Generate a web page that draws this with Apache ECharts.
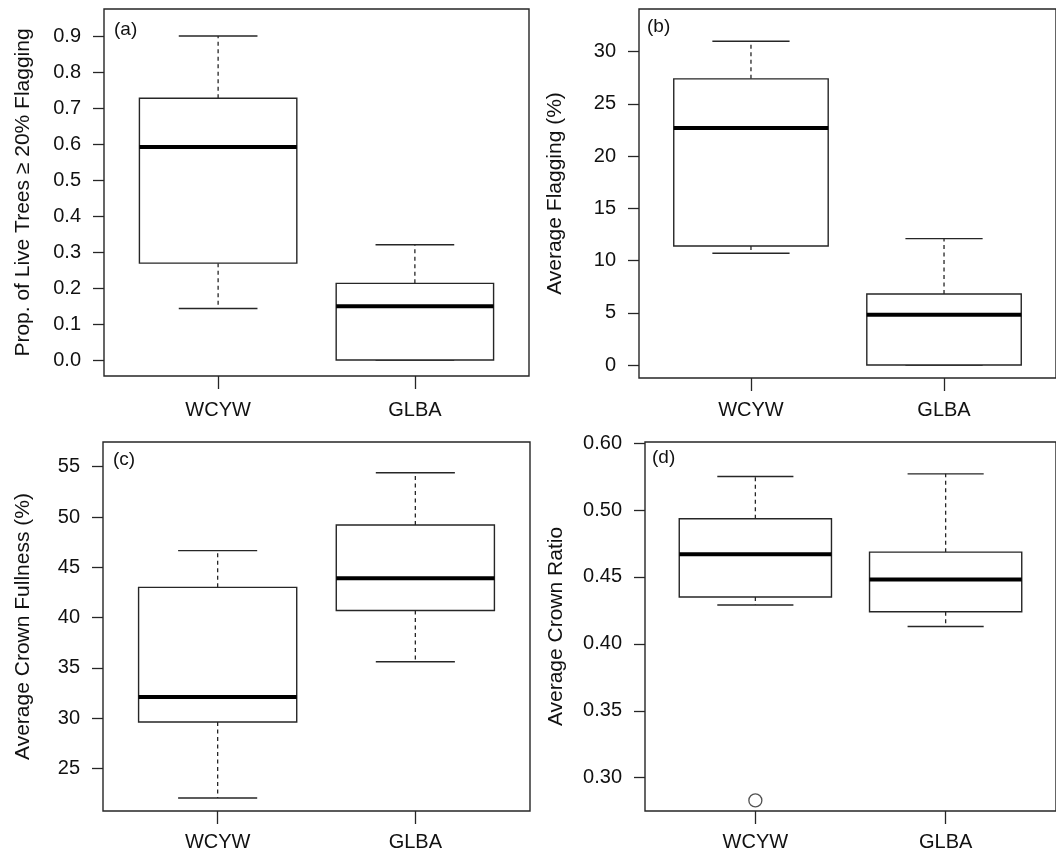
<!DOCTYPE html>
<html>
<head>
<meta charset="utf-8">
<script src="https://cdn.jsdelivr.net/npm/echarts@6/dist/echarts.min.js"></script>
<style>
  html, body { margin: 0; background: #fff; }
  #chart { width: 1056px; height: 855px; }
</style>
</head>
<body>
<div id="chart"></div>
<script>
// 两个站点
const categories = ['WCYW', 'GLBA'];

// 每组 [min, Q1, median, Q3, max]
const propFlagging = [[0.143, 0.269, 0.592, 0.727, 0.900], [0.0, 0.0, 0.149, 0.213, 0.320]];
const avgFlagging = [[10.7, 11.4, 22.7, 27.4, 31.0], [0.0, 0.0, 4.8, 6.8, 12.1]];
const crownFullness = [[22.05, 29.6, 32.1, 43.0, 46.65], [35.6, 40.7, 43.9, 49.2, 54.4]];
const crownRatio = [[0.429, 0.435, 0.467, 0.4935, 0.525], [0.413, 0.424, 0.448, 0.4685, 0.527]];
const crownRatioOutliers = [[1, 0.283]];

// 刻度
const ticksA = [0, 0.1, 0.2, 0.3, 0.4, 0.5, 0.6, 0.7, 0.8, 0.9];
const labelsA = ['0.0', '0.1', '0.2', '0.3', '0.4', '0.5', '0.6', '0.7', '0.8', '0.9'];
const ticksB = [0, 5, 10, 15, 20, 25, 30];
const labelsB = ['0', '5', '10', '15', '20', '25', '30'];
const ticksC = [25, 30, 35, 40, 45, 50, 55];
const labelsC = ['25', '30', '35', '40', '45', '50', '55'];
const ticksD = [0.30, 0.35, 0.40, 0.45, 0.50, 0.55];
const labelsD = ['0.30', '0.35', '0.40', '0.45', '0.50', '0.60'];

const FONT = 'Liberation Sans, Arial, Helvetica, sans-serif';
const INK = '#262626';
const BOX_WIDTH = 0.8;

const panels = [
  { tag: '(a)', tagPos: [114, 20], grid: { left: 104, top: 9, width: 425, height: 367 },
    yMin: -0.0444, yMax: 0.975, ticks: ticksA, labels: labelsA,
    name: 'Prop. of Live Trees ≥ 20% Flagging', nameGap: 70, xMargin: 24, stats: propFlagging },
  { tag: '(b)', tagPos: [647, 17], grid: { left: 639, top: 9, width: 423, height: 369 },
    yMin: -1.245, yMax: 34.09, ticks: ticksB, labels: labelsB,
    name: 'Average Flagging (%)', nameGap: 73, xMargin: 22, stats: avgFlagging },
  { tag: '(c)', tagPos: [113, 450], grid: { left: 103, top: 442, width: 427, height: 369 },
    yMin: 20.75, yMax: 57.46, ticks: ticksC, labels: labelsC,
    name: 'Average Crown Fullness (%)', nameGap: 69, xMargin: 21, stats: crownFullness },
  { tag: '(d)', tagPos: [652, 448], grid: { left: 645, top: 442, width: 423, height: 369 },
    yMin: 0.2751, yMax: 0.5508, ticks: ticksD, labels: labelsD,
    name: 'Average Crown Ratio', nameGap: 78, xMargin: 21, stats: crownRatio, outliers: crownRatioOutliers }
];

function renderBox(params, api) {
  const x = api.value(0);
  const lo = api.coord([x, api.value(1)]);
  const q1 = api.coord([x, api.value(2)]);
  const md = api.coord([x, api.value(3)]);
  const q3 = api.coord([x, api.value(4)]);
  const hi = api.coord([x, api.value(5)]);
  const w = api.size([BOX_WIDTH, 0])[0];
  const cx = md[0];
  const thin = { stroke: INK, lineWidth: 1.4 };
  const dash = { stroke: INK, lineWidth: 1.3, lineDash: [4, 3.5] };
  return {
    type: 'group',
    children: [
      { type: 'line', shape: { x1: cx, y1: q3[1], x2: cx, y2: hi[1] }, style: dash },
      { type: 'line', shape: { x1: cx, y1: q1[1], x2: cx, y2: lo[1] }, style: dash },
      { type: 'line', shape: { x1: cx - w / 4, y1: hi[1], x2: cx + w / 4, y2: hi[1] }, style: thin },
      { type: 'line', shape: { x1: cx - w / 4, y1: lo[1], x2: cx + w / 4, y2: lo[1] }, style: thin },
      { type: 'rect', shape: { x: cx - w / 2, y: q3[1], width: w, height: q1[1] - q3[1] },
        style: { fill: '#fff', stroke: INK, lineWidth: 1.4 } },
      { type: 'line', shape: { x1: cx - w / 2, y1: md[1], x2: cx + w / 2, y2: md[1] },
        style: { stroke: '#000', lineWidth: 4 } }
    ]
  };
}

const option = {
  animation: false,
  backgroundColor: '#fff',
  textStyle: { fontFamily: FONT },
  title: panels.map(p => ({
    text: p.tag, left: p.tagPos[0], top: p.tagPos[1], padding: 0,
    textStyle: { fontFamily: FONT, fontSize: 19, fontWeight: 'normal', color: '#111' }
  })),
  grid: panels.map(p => Object.assign({
    show: true, borderColor: INK, borderWidth: 1.4, backgroundColor: 'transparent'
  }, p.grid)),
  xAxis: panels.map((p, i) => ({
    type: 'value', gridIndex: i, min: 0.42, max: 2.58, position: 'bottom',
    splitLine: { show: false },
    axisLine: { show: false, onZero: false },
    axisTick: { show: true, length: 13, customValues: [1, 2], lineStyle: { color: INK, width: 1.3 } },
    axisLabel: {
      customValues: [1, 2], margin: p.xMargin, fontSize: 20, color: '#111', fontFamily: FONT,
      formatter: v => categories[Math.round(v) - 1]
    }
  })),
  yAxis: panels.map((p, i) => ({
    type: 'value', gridIndex: i, min: p.yMin, max: p.yMax, position: 'left',
    name: p.name, nameLocation: 'middle', nameRotate: 90, nameGap: p.nameGap,
    nameTextStyle: { fontSize: 21, color: '#111', fontFamily: FONT },
    splitLine: { show: false },
    axisLine: { show: false, onZero: false },
    axisTick: { show: true, length: 11, customValues: p.ticks, lineStyle: { color: INK, width: 1.3 } },
    axisLabel: {
      customValues: p.ticks, margin: 23, fontSize: 20, color: '#111', fontFamily: FONT,
      formatter: v => {
        const k = p.ticks.findIndex(t => Math.abs(t - v) < 1e-9);
        return k >= 0 ? p.labels[k] : '';
      }
    }
  })),
  series: []
};

panels.forEach((p, i) => {
  option.series.push({
    type: 'custom', xAxisIndex: i, yAxisIndex: i,
    renderItem: renderBox,
    encode: { x: 0, y: [1, 2, 3, 4, 5] },
    data: p.stats.map((s, k) => [k + 1].concat(s))
  });
  if (p.outliers) {
    option.series.push({
      type: 'scatter', xAxisIndex: i, yAxisIndex: i,
      symbol: 'circle', symbolSize: 13,
      itemStyle: { color: '#fff', borderColor: INK, borderWidth: 1.3 },
      data: p.outliers
    });
  }
});

const chart = echarts.init(document.getElementById('chart'));
chart.setOption(option);
window.addEventListener('resize', () => chart.resize());
</script>
</body>
</html>
